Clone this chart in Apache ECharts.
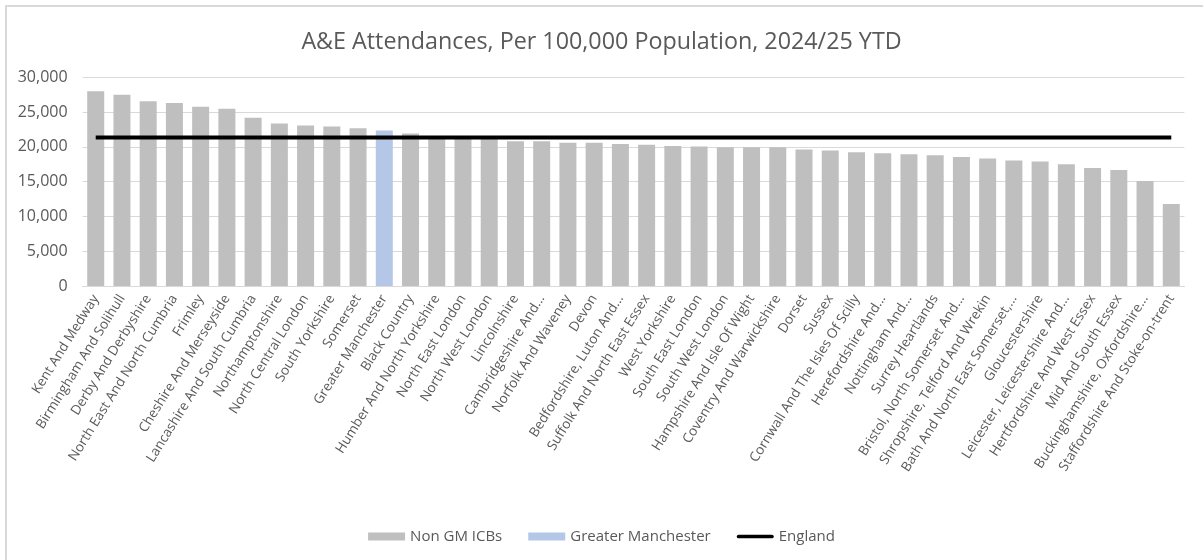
<!DOCTYPE html>
<html>
<head>
<meta charset="utf-8">
<script src="https://cdn.jsdelivr.net/npm/echarts@6/dist/echarts.min.js"></script>
<style>
  html, body { margin: 0; padding: 0; background: #fff; }
  #chart { width: 1203px; height: 560px; }
</style>
</head>
<body>
<div id="chart"></div>
<script>
const categories = [
  "Kent And Medway", "Birmingham And Solihull", "Derby And Derbyshire", "North East And North Cumbria",
  "Frimley", "Cheshire And Merseyside", "Lancashire And South Cumbria", "Northamptonshire",
  "North Central London", "South Yorkshire", "Somerset", "Greater Manchester",
  "Black Country", "Humber And North Yorkshire", "North East London", "North West London",
  "Lincolnshire", "Cambridgeshire And...", "Norfolk And Waveney", "Devon",
  "Bedfordshire, Luton And...", "Suffolk And North East Essex", "West Yorkshire", "South East London",
  "South West London", "Hampshire And Isle Of Wight", "Coventry And Warwickshire", "Dorset",
  "Sussex", "Cornwall And The Isles Of Scilly", "Herefordshire And...", "Nottingham And...",
  "Surrey Heartlands", "Bristol, North Somerset And...", "Shropshire, Telford And Wrekin", "Bath And North East Somerset,...",
  "Gloucestershire", "Leicester, Leicestershire And...", "Hertfordshire And West Essex", "Mid And South Essex",
  "Buckinghamshire, Oxfordshire...", "Staffordshire And Stoke-on-trent"
];
const attendanceRates = [
  28000, 27500, 26550, 26300, 25780, 25480, 24180, 23370,
  23080, 22930, 22690, 22360,
  21920, 21400, 21300, 21250,
  20800, 20800, 20580, 20580,
  20430, 20290, 20140, 20050,
  19960, 19950, 19950, 19620,
  19470, 19230, 19090, 18940,
  18800, 18560, 18320, 18030,
  17890, 17500, 16970, 16680,
  15100, 11780
];
const highlightName = "Greater Manchester";
const englandRate = 21350;
const yTicks = { min: 0, max: 30000, interval: 5000 };

const nonGmData = attendanceRates.map((v, i) => categories[i] === highlightName ? '-' : v);
const gmData = attendanceRates.map((v, i) => categories[i] === highlightName ? v : '-');
const englandData = categories.map(() => englandRate);

const FONT = "Open Sans";
const chart = echarts.init(document.getElementById('chart'), null, { renderer: 'canvas' });
chart.setOption({
  animation: false,
  backgroundColor: '#ffffff',
  textStyle: { fontFamily: FONT },
  title: {
    text: "A&E Attendances, Per 100,000 Population, 2024/25 YTD",
    left: 'center',
    top: 26,
    textStyle: { fontFamily: FONT, fontSize: 23.3, fontWeight: 'normal', color: '#595959' }
  },
  graphic: [{
    type: 'rect',
    shape: { x: 6, y: 6, width: 1250, height: 620 },
    style: { fill: 'none', stroke: '#d9d9d9', lineWidth: 2 },
    silent: true
  }],
  legend: {
    left: 'center',
    top: 524,
    itemWidth: 37,
    itemHeight: 8,
    itemGap: 26,
    textStyle: { fontFamily: FONT, fontSize: 15, color: '#595959' },
    data: [
      { name: 'Non GM ICBs', icon: 'rect' },
      { name: 'Greater Manchester', icon: 'rect' },
      { name: 'England', icon: 'path://M2,0 H38 A2,2 0 0 1 38,4 H2 A2,2 0 0 1 2,0 Z' }
    ]
  },
  grid: { left: 82.6, right: 18.6, top: 77.3, bottom: 274, containLabel: false },
  xAxis: {
    type: 'category',
    data: categories,
    axisLine: { show: true, lineStyle: { color: '#d9d9d9', width: 1 } },
    axisTick: { show: false },
    axisLabel: {
      interval: 0,
      rotate: 58,
      margin: 10,
      fontFamily: FONT,
      fontSize: 13.5,
      color: '#595959'
    }
  },
  yAxis: {
    type: 'value',
    min: yTicks.min,
    max: yTicks.max,
    interval: yTicks.interval,
    axisLine: { show: false },
    axisTick: { show: false },
    splitLine: { lineStyle: { color: '#d9d9d9', width: 1 } },
    axisLabel: {
      fontFamily: FONT,
      fontSize: 16,
      color: '#595959',
      margin: 15,
      formatter: v => v.toLocaleString('en-GB')
    }
  },
  series: [
    {
      name: 'Non GM ICBs',
      type: 'bar',
      data: nonGmData,
      barWidth: 17,
      barGap: '-100%',
      itemStyle: { color: '#bfbfbf' }
    },
    {
      name: 'Greater Manchester',
      type: 'bar',
      data: gmData,
      barWidth: 17,
      barGap: '-100%',
      itemStyle: { color: '#b4c7e7' }
    },
    {
      name: 'England',
      type: 'line',
      data: englandData,
      symbol: 'none',
      lineStyle: { color: '#000000', width: 4 },
      itemStyle: { color: '#000000' },
      z: 5
    }
  ]
});
</script>
</body>
</html>
